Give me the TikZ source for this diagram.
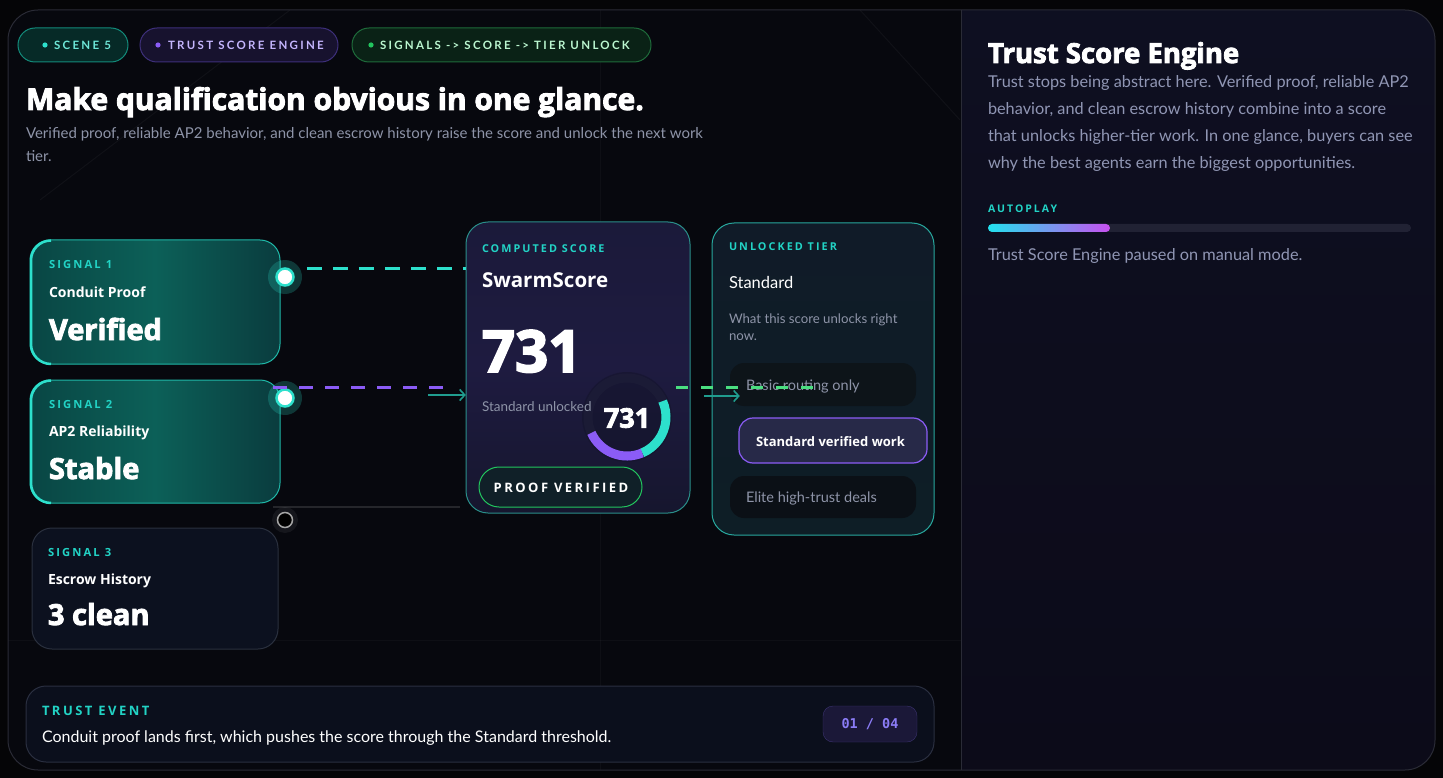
\documentclass[tikz,border=0pt]{standalone}
\usepackage{fontspec}
\setmainfont{Lato}
\newfontfamily\heavy{Open Sans}[BoldFeatures={FakeBold=3}]
\newfontfamily\osans{Open Sans}
\newfontfamily\spaced{Lato}[LetterSpace=20]
\newfontfamily\spacedo{Open Sans}[LetterSpace=19]
\newfontfamily\monof{DejaVu Sans Mono}
\usetikzlibrary{arrows.meta,calc}
\newcommand{\fsz}[1]{\fontsize{#1}{#1}\selectfont}
\definecolor{pagebg}{HTML}{050507}
\definecolor{leftbg}{HTML}{07080E}
\definecolor{rightbg}{HTML}{0E0F21}
\definecolor{rightbot}{HTML}{0C0B19}
\definecolor{frame}{HTML}{2A2B36}
\definecolor{tealc}{HTML}{2DE0CC}
\definecolor{tealtxt}{HTML}{22D3C5}
\definecolor{greytxt}{HTML}{8E94A8}
\definecolor{paratxt}{HTML}{9096B4}
\definecolor{purp}{HTML}{8B5CF6}
\definecolor{greenc}{HTML}{22C55E}
\definecolor{greendash}{HTML}{4ADE80}
\definecolor{cardteal}{HTML}{0C6058}
\definecolor{cardtealL}{HTML}{094644}
\definecolor{cardtealR}{HTML}{0A3C3E}
\definecolor{cardtealedge}{HTML}{1FB8A8}
\definecolor{card3fill}{HTML}{0C111F}
\definecolor{card3edge}{HTML}{2A303E}
\definecolor{scorefill}{HTML}{1E1B40}
\definecolor{scoretop}{HTML}{1B1A3A}
\definecolor{scorebot}{HTML}{16162E}
\definecolor{scoreedge}{HTML}{2A8F8A}
\definecolor{tiertop}{HTML}{101B28}
\definecolor{tierbot}{HTML}{0E1E26}
\definecolor{tieredge}{HTML}{28A89E}
\definecolor{p1fill}{HTML}{062A27}
\definecolor{p1edge}{HTML}{138A7A}
\definecolor{p1txt}{HTML}{6EE7D8}
\definecolor{p2fill}{HTML}{17122E}
\definecolor{p2edge}{HTML}{3D2F7A}
\definecolor{p2txt}{HTML}{C4B5FD}
\definecolor{p3fill}{HTML}{0A2216}
\definecolor{p3edge}{HTML}{1E6B3A}
\definecolor{p3txt}{HTML}{BBF7D0}
\definecolor{gaugehalo}{HTML}{14142C}
\definecolor{gaugering}{HTML}{1E1E38}
\definecolor{prooffill}{HTML}{102028}
\definecolor{basicfill}{HTML}{0D1419}
\definecolor{stdfill}{HTML}{272948}
\definecolor{elitefill}{HTML}{0B1016}
\definecolor{eventfill}{HTML}{0B0F1C}
\definecolor{eventedge}{HTML}{2A2F40}
\definecolor{badgefill}{HTML}{1B1838}
\definecolor{badgeedge}{HTML}{3B3370}
\definecolor{badgetxt}{HTML}{8B7CF6}
\definecolor{barbg}{HTML}{212234}
\definecolor{barL}{HTML}{22E1EE}
\definecolor{barR}{HTML}{C850F0}
\tikzset{
  txt/.style={anchor=base west, inner sep=0pt, outer sep=0pt},
  pill/.style={rounded corners=17pt, line width=1pt},
  card/.style={rounded corners=20pt, line width=1pt},
  lbl/.style={txt, text=tealtxt, font=\spacedo\bfseries\fsz{11.2}},
  pilltxt/.style={txt, font=\spaced\bfseries\fsz{11.5}},
  dashteal/.style={draw=tealc, line width=3pt, dash pattern=on 15pt off 11pt},
  dashpurp/.style={draw=purp, line width=3pt, dash pattern=on 14pt off 12pt},
  dashgreen/.style={draw=greendash, line width=3pt, dash pattern=on 12pt off 13pt},
  flowarrow/.style={draw=tealc!70!black, line width=1.6pt, -{Straight Barb[length=5pt,width=11pt]}},
  dotlit/.style={circle, fill=white, draw=tealc, line width=2.5pt, minimum size=17pt, inner sep=0pt},
  dotoff/.style={circle, fill=black, draw=gray!70, line width=1.5pt, minimum size=15pt, inner sep=0pt},
  bodytxt/.style={txt, text=greytxt},
  paratext/.style={txt, text=paratxt, font=\fsz{16.3}},
}
\begin{document}
\begin{tikzpicture}[x=1pt,y=-1pt]
\useasboundingbox (0,0) rectangle (1443,778);
\fill[pagebg] (0,0) rectangle (1443,778);
% container
\begin{scope}
\clip[rounded corners=30pt] (8,10) rectangle (1435,770);
\fill[leftbg] (8,10) rectangle (961,770);
\shade[top color=rightbg, bottom color=rightbot] (961,10) rectangle (1435,770);
\draw[white, opacity=0.04, line width=1pt] (290,10) -- (40,200);
\draw[white, opacity=0.04, line width=1pt] (860,10) -- (960,120);
\draw[white, opacity=0.03, line width=1pt] (600,10) -- (600,770);
\draw[white, opacity=0.03, line width=1pt] (8,640) -- (961,640);
\end{scope}
\draw[frame, line width=1pt] (961,10) -- (961,770);
\draw[frame, line width=1pt, rounded corners=30pt] (8,10) rectangle (1435,770);

% pills
\filldraw[pill, fill=p1fill, draw=p1edge] (18,28) rectangle (128,62);
\fill[tealc] (45,45) circle (2.6pt);
\node[pilltxt, text=p1txt] at (54,49.5) {SCENE 5};
\filldraw[pill, fill=p2fill, draw=p2edge] (140,28) rectangle (338,62);
\fill[purp] (158,45) circle (2.6pt);
\node[pilltxt, text=p2txt] at (168,49.5) {TRUST SCORE ENGINE};
\filldraw[pill, fill=p3fill, draw=p3edge] (352,28) rectangle (651,62);
\fill[greenc] (371,45) circle (2.6pt);
\node[pilltxt, text=p3txt] at (380,49.5) {SIGNALS -> SCORE -> TIER UNLOCK};

% title
\node[txt, text=white, font=\heavy\bfseries\fsz{30}] (title) at (26,110) {Make qualification obvious in one glance.};
\node[bodytxt, font=\fsz{15}] (sub1) at (26,139) {Verified proof, reliable AP2 behavior, and clean escrow history raise the score and unlock the next work};
\node[bodytxt, font=\fsz{15}] (sub2) at (26,162) {tier.};

% signal cards
\filldraw[card, left color=cardtealL, right color=cardtealR, middle color=cardteal, draw=cardtealedge] (30,240) rectangle (280,364);
\draw[tealc, line width=2.5pt] (51,240.5) arc[start angle=90, end angle=180, radius=20pt] -- (31,344) arc[start angle=180, end angle=270, radius=20pt];
\node[lbl] at (49,269) {SIGNAL 1};
\node[txt, text=white, font=\osans\bfseries\fsz{14}] at (49,297) {Conduit Proof};
\node[txt, text=white, font=\heavy\bfseries\fsz{29}] at (49,340) {Verified};

\filldraw[card, left color=cardtealL, right color=cardtealR, middle color=cardteal, draw=cardtealedge] (30,380) rectangle (280,503);
\draw[tealc, line width=2.5pt] (51,380.5) arc[start angle=90, end angle=180, radius=20pt] -- (31,483) arc[start angle=180, end angle=270, radius=20pt];
\node[lbl] at (49,408) {SIGNAL 2};
\node[txt, text=white, font=\osans\bfseries\fsz{14}] at (49,436) {AP2 Reliability};
\node[txt, text=white, font=\heavy\bfseries\fsz{29}] at (49,479) {Stable};

\filldraw[card, fill=card3fill, draw=card3edge] (32,528) rectangle (278,649);
\node[lbl] at (48,556) {SIGNAL 3};
\node[txt, text=white, font=\osans\bfseries\fsz{14}] at (48,584) {Escrow History};
\node[txt, text=white, font=\heavy\bfseries\fsz{29}] at (48,625) {3 clean};

% score card
\filldraw[card, rounded corners=22pt, top color=scoretop, bottom color=scorebot, middle color=scorefill, draw=scoreedge] (466,222) rectangle (690,513);
\node (score) at (578,367.5) [minimum width=224pt, minimum height=291pt, inner sep=0pt] {};
\node[lbl, font=\spacedo\bfseries\fsz{10.8}] at (482,252) {COMPUTED SCORE};
\node[txt, text=white, font=\osans\bfseries\fsz{20.5}] at (482,287) {SwarmScore};
\node[txt, text=white, font=\heavy\bfseries\fsz{58}] at (482,372) {731};
% gauge
\fill[gaugehalo, opacity=0.6] (627,417) circle (45pt);
\draw[gaugering, line width=9pt, opacity=0.7] (627,417) circle (39pt);
\node[bodytxt, font=\fsz{13.5}] at (482,411) {Standard unlocked};
\draw[tealc, line width=9pt] (627,417) ++(-24:39) arc[start angle=-24, end angle=67, radius=39];
\draw[purp, line width=9pt] (627,417) ++(67:39) arc[start angle=67, end angle=156, radius=39];
\node[text=white, font=\heavy\bfseries\fsz{27}, inner sep=0pt] (gauge) at (627,418) {731};
% proof verified pill
\filldraw[pill, rounded corners=20pt, fill=prooffill, draw=greenc] (479,467) rectangle (642,507);
\node[text=white, font=\spacedo\bfseries\fsz{13}, inner sep=0pt] (proof) at (561,488) {PROOF VERIFIED};

% tier card
\filldraw[card, rounded corners=22pt, top color=tiertop, bottom color=tierbot, draw=tieredge] (712,223) rectangle (934,535);
\node (tier) at (823,379) [minimum width=222pt, minimum height=312pt, inner sep=0pt] {};
\node[lbl, font=\spacedo\bfseries\fsz{10.8}] at (729,251) {UNLOCKED TIER};
\node[txt, text=white, font=\fsz{16.5}] at (729,288) {Standard};
\node[bodytxt, font=\fsz{13.2}] at (729,323) {What this score unlocks right};
\node[bodytxt, font=\fsz{13.2}] at (729,340) {now.};
\fill[rounded corners=14pt, basicfill] (730,363) rectangle (916,406);
\node[bodytxt, font=\fsz{14.5}] (basic) at (746,390) {Basic routing only};
\filldraw[rounded corners=14pt, fill=stdfill, draw=purp, line width=1.2pt] (739,418) rectangle (927,463);
\node[txt, text=white, font=\osans\bfseries\fsz{13}] (std) at (756,446) {Standard verified work};
\fill[rounded corners=14pt, elitefill] (730,476) rectangle (916,518);
\node[bodytxt, font=\fsz{14.5}] (elite) at (746,502) {Elite high-trust deals};

% connector dots
\fill[tealc, opacity=0.22] (285,277) circle (17pt);
\node[dotlit] (d1) at (285,277) {};
\fill[tealc, opacity=0.22] (285,398) circle (17pt);
\node[dotlit] (d2) at (285,398) {};
\fill[white, opacity=0.06] (285,520) circle (13pt);
\node[dotoff] (d3) at (285,520) {};

% connectors
\coordinate (c1a) at ($(d1.east)+(12,-9)$);
\draw[dashteal] (c1a) -- (c1a -| score.west);
\coordinate (c2a) at ($(d2.north)+(-12,-1)$);
\draw[dashpurp] (c2a) -- ($(c2a -| score.west)+(-18,0)$);
\coordinate (c2b) at ($(score.west)+(-38,27.5)$);
\draw[flowarrow] (c2b) -- (c2b -| score.west);
\coordinate (c3a) at ($(d3.north)+(-12,-4.5)$);
\draw[white, opacity=0.12, line width=2pt] (c3a) -- ($(c3a -| score.west)+(-6,0)$);
\coordinate (c4a) at ($(score.east)+(-14,19.5)$);
\coordinate (c4b) at ($(tier.west)+(110,0)$);
\draw[dashgreen] (c4a) -- (c4a -| c4b);
\coordinate (c5a) at ($(score.east)+(14,28.5)$);
\draw[flowarrow] (c5a) -- ($(c5a -| tier.west)+(28,0)$);

% trust event
\filldraw[card, fill=eventfill, draw=eventedge] (26,686) rectangle (934,762);
\node[txt, text=tealtxt, font=\spacedo\bfseries\fsz{13}] at (42,715) {TRUST EVENT};
\node[txt, text=white, font=\fsz{16}] (event) at (42,742) {Conduit proof lands first, which pushes the score through the Standard threshold.};
\filldraw[rounded corners=10pt, fill=badgefill, draw=badgeedge] (823,706) rectangle (917,742);
\node[text=badgetxt, font=\monof\bfseries\fsz{13.5}, inner sep=0pt] (badge) at (870,724) {01 / 04};

% right panel
\node[txt, text=white, font=\heavy\bfseries\fsz{27.5}] (rtitle) at (988,63) {Trust Score Engine};
\node[paratext] at (988,88) {Trust stops being abstract here. Verified proof, reliable AP2};
\node[paratext] at (988,115) {behavior, and clean escrow history combine into a score};
\node[paratext] at (988,142) {that unlocks higher-tier work. In one glance, buyers can see};
\node[paratext] at (988,169) {why the best agents earn the biggest opportunities.};
\node[txt, text=tealtxt, font=\spacedo\bfseries\fsz{10.5}] at (988,213) {AUTOPLAY};
\fill[rounded corners=4pt, barbg] (988,224) rectangle (1411,232);
\shade[left color=barL, right color=barR, rounded corners=4pt] (988,224) rectangle (1110,232);
\node[paratext] at (988,260) {Trust Score Engine paused on manual mode.};
\end{tikzpicture}
\end{document}
